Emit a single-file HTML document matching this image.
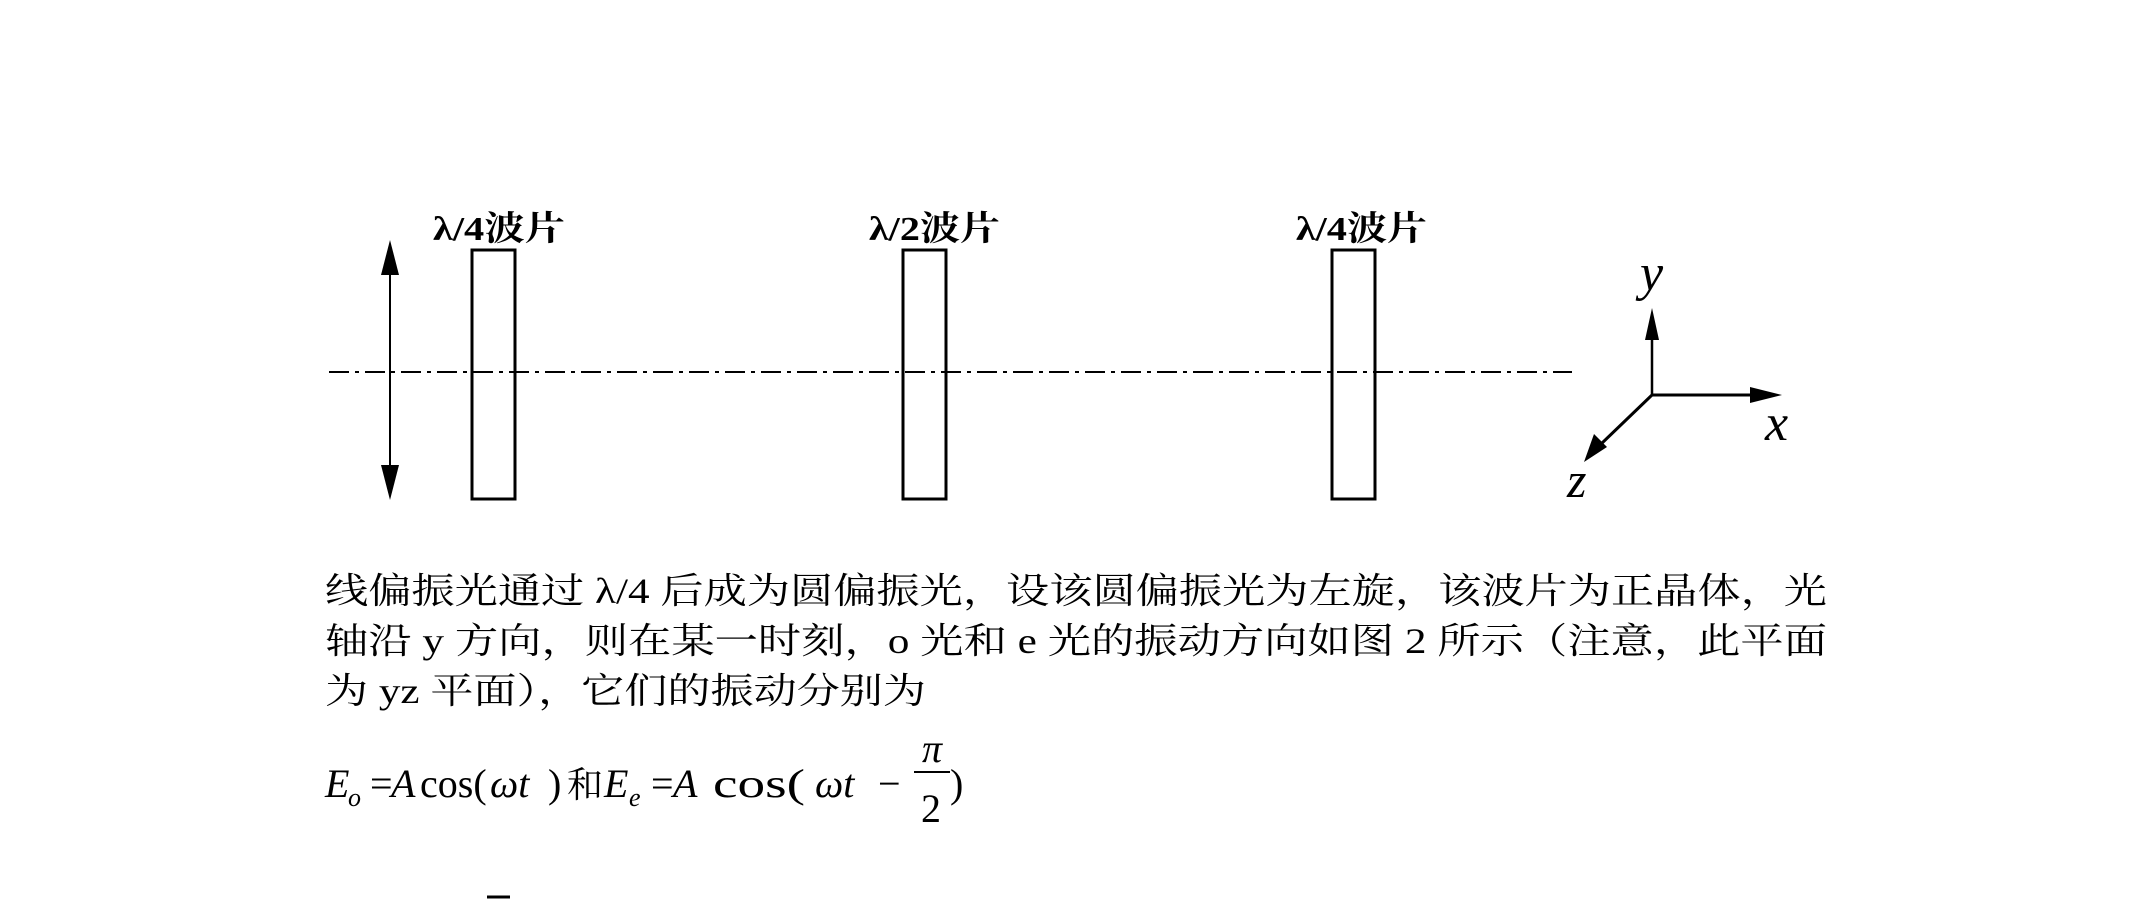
<!DOCTYPE html>
<html><head><meta charset="utf-8"><style>
html,body{margin:0;padding:0;background:#fff;width:2149px;height:900px;overflow:hidden}
svg{display:block}
.cn{font-family:"Liberation Serif","Noto Serif CJK SC",serif;}
.it{font-family:"Liberation Serif",serif;font-style:italic}
</style></head><body>
<svg width="2149" height="900" viewBox="0 0 2149 900" xmlns="http://www.w3.org/2000/svg">
<text class="cn" x="433" y="240" font-size="34" font-weight="bold" textLength="132" lengthAdjust="spacingAndGlyphs">λ/4波片</text>
<text class="cn" x="869" y="240" font-size="34" font-weight="bold" textLength="131" lengthAdjust="spacingAndGlyphs">λ/2波片</text>
<text class="cn" x="1296" y="240" font-size="34" font-weight="bold" textLength="131" lengthAdjust="spacingAndGlyphs">λ/4波片</text>
<line x1="390" y1="265" x2="390" y2="475" stroke="#000" stroke-width="2"/>
<path d="M390,240 L381,275 L399,275 z" fill="#000"/>
<path d="M390,500 L381,465 L399,465 z" fill="#000"/>
<rect x="472" y="250" width="43" height="249" fill="none" stroke="#000" stroke-width="3"/>
<rect x="903" y="250" width="43" height="249" fill="none" stroke="#000" stroke-width="3"/>
<rect x="1332" y="250" width="43" height="249" fill="none" stroke="#000" stroke-width="3"/>
<line x1="329" y1="372" x2="1572" y2="372" stroke="#000" stroke-width="2" stroke-dasharray="20,6,4,6"/>
<line x1="1652" y1="395" x2="1652" y2="330" stroke="#000" stroke-width="2.5"/>
<path d="M1652,308 L1645,340 L1659,340 z" fill="#000"/>
<line x1="1652" y1="395" x2="1752" y2="395" stroke="#000" stroke-width="3"/>
<path d="M1782,395 L1750,387 L1750,403 z" fill="#000"/>
<line x1="1652" y1="395" x2="1600" y2="445" stroke="#000" stroke-width="3"/>
<path d="M1584,462 L1594,434 L1607,447 z" fill="#000"/>
<text class="it" x="1640" y="290" font-size="52">y</text>
<text class="it" x="1765" y="440" font-size="52">x</text>
<text class="it" x="1567" y="497" font-size="50">z</text>
<text class="cn" x="325" y="603" font-size="36" textLength="1502" lengthAdjust="spacingAndGlyphs">线偏振光通过 λ/4 后成为圆偏振光，设该圆偏振光为左旋，该波片为正晶体，光</text>
<text class="cn" x="325" y="653" font-size="36" textLength="1502" lengthAdjust="spacingAndGlyphs">轴沿 y 方向，则在某一时刻，o 光和 e 光的振动方向如图 2 所示（注意，此平面</text>
<text class="cn" x="325" y="703" font-size="36" textLength="601" lengthAdjust="spacingAndGlyphs">为 yz 平面），它们的振动分别为</text>
<text class="it" x="325" y="797" font-size="40">E</text>
<text class="it" x="348" y="806" font-size="26">o</text>
<text class="cn" x="370" y="797" font-size="40">=</text>
<text class="it" x="391" y="797" font-size="40">A</text>
<text class="cn" x="420" y="797" font-size="40">cos(</text>
<text class="it" x="490" y="797" font-size="40">ωt</text>
<text class="cn" x="548" y="797" font-size="40">)</text>
<text class="cn" x="567" y="797" font-size="36">和</text>
<text class="it" x="604" y="797" font-size="40">E</text>
<text class="it" x="629" y="806" font-size="26">e</text>
<text class="cn" x="651" y="797" font-size="40">=</text>
<text class="it" x="673" y="797" font-size="40">A</text>
<text class="cn" x="713" y="797" font-size="40" textLength="92" lengthAdjust="spacingAndGlyphs">cos(</text>
<text class="it" x="815" y="797" font-size="40">ωt</text>
<text class="cn" x="878" y="797" font-size="40">−</text>
<text class="it" x="922" y="762" font-size="40">π</text>
<line x1="914" y1="772" x2="950" y2="772" stroke="#000" stroke-width="2"/>
<text class="cn" x="921" y="822" font-size="40">2</text>
<text class="cn" x="950" y="797" font-size="40">)</text>
<line x1="487" y1="897" x2="510" y2="897" stroke="#000" stroke-width="3"/>
</svg>
</body></html>
